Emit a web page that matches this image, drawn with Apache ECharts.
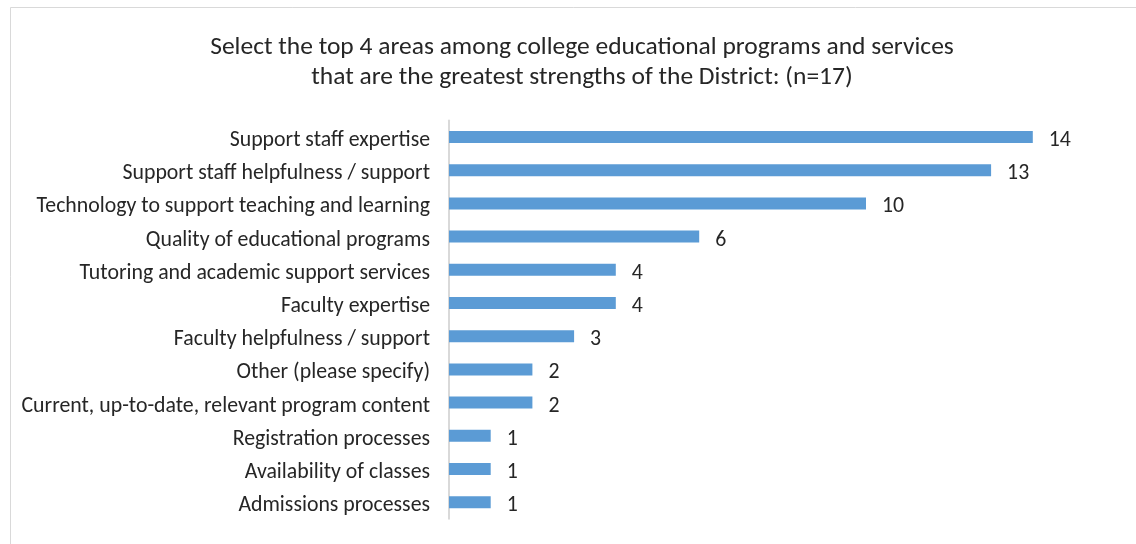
<!DOCTYPE html>
<html><head><meta charset="utf-8">
<script src="https://cdn.jsdelivr.net/npm/echarts@6/dist/echarts.min.js"></script>
<style>html,body{margin:0;padding:0;background:#fff}#c{width:1136px;height:544px}</style>
</head><body><div id="c"></div>
<script>
const titleText = "Select the top 4 areas among college educational programs and services\nthat are the greatest strengths of the District: (n=17)";
const categories = [
  "Support staff expertise",
  "Support staff helpfulness / support",
  "Technology to support teaching and learning",
  "Quality of educational programs",
  "Tutoring and academic support services",
  "Faculty expertise",
  "Faculty helpfulness / support",
  "Other (please specify)",
  "Current, up-to-date, relevant program content",
  "Registration processes",
  "Availability of classes",
  "Admissions processes"
];
const values = [14, 13, 10, 6, 4, 4, 3, 2, 2, 1, 1, 1];

const chart = echarts.init(document.getElementById('c'), null, {renderer: 'canvas'});
const font = 'Carlito, Calibri, "Open Sans", sans-serif';
chart.setOption({
  animation: false,
  backgroundColor: '#fff',
  graphic: [{
    type: 'rect', left: 8, top: 5, z: -1,
    shape: {width: 1140, height: 545},
    style: {fill: 'none', stroke: '#d9d9d9', lineWidth: 1}
  }],
  title: {
    text: titleText, left: 577, top: 28, textAlign: 'center',
    textStyle: {fontFamily: font, fontSize: 25.5, fontWeight: 'normal', color: '#262626', lineHeight: 30}
  },
  grid: {left: 449, top: 120.4, bottom: 25.2, right: 19.8, containLabel: false},
  xAxis: {type: 'value', min: 0, max: 16, show: false},
  yAxis: {
    type: 'category', data: categories, inverse: true,
    axisLine: {show: true, lineStyle: {color: '#d9d9d9', width: 2}},
    axisTick: {show: false},
    axisLabel: {fontFamily: font, fontSize: 21.8, color: '#262626', margin: 19, verticalAlign: 'top', lineHeight: 7}
  },
  series: [{
    type: 'bar', data: values, barWidth: 12,
    itemStyle: {color: '#5b9bd5'},
    label: {show: true, position: 'right', distance: 16, fontFamily: font, fontSize: 21.8, color: '#262626', offset: [0, 3.5]}
  }]
});
</script></body></html>
